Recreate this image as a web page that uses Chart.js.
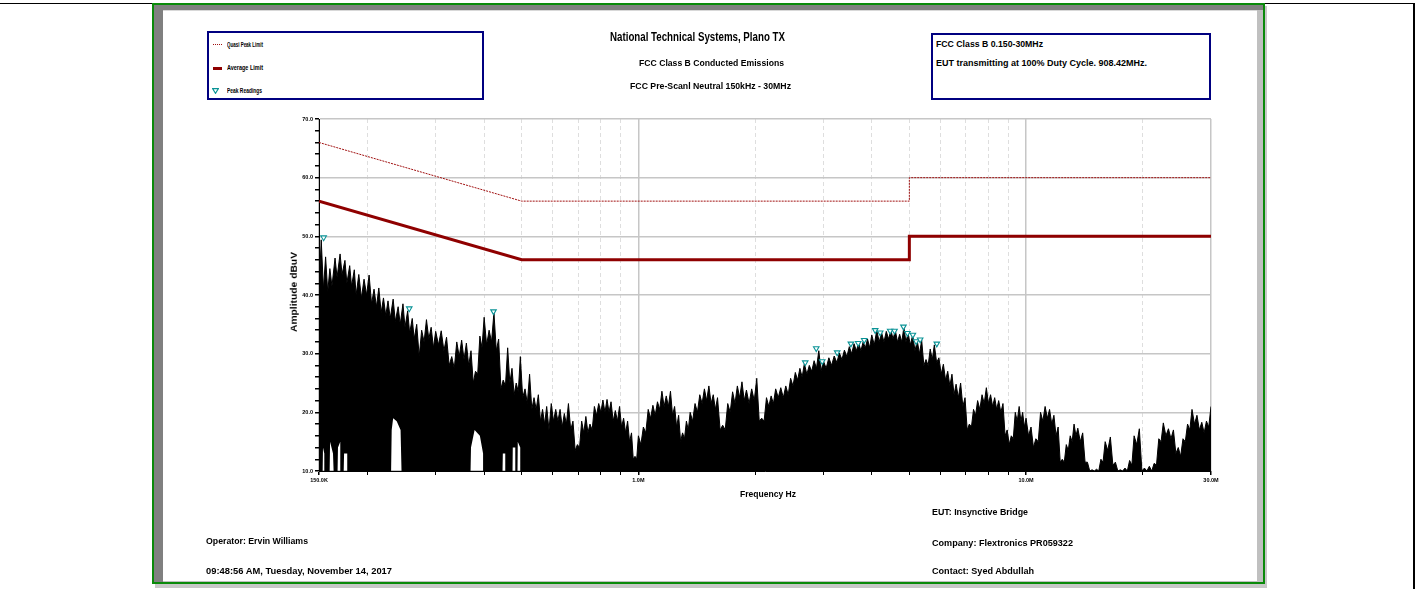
<!DOCTYPE html>
<html><head><meta charset="utf-8">
<script src="https://cdn.jsdelivr.net/npm/chart.js@4.4.0/dist/chart.umd.min.js"></script>
<style>
html,body{margin:0;padding:0;background:#fff;}
body{width:1421px;height:589px;position:relative;overflow:hidden;font-family:"Liberation Sans",Arial,sans-serif;}
.a{position:absolute;}
.t{position:absolute;white-space:nowrap;font-weight:bold;line-height:1;transform-origin:0 50%;color:#000;}
.box{position:absolute;box-sizing:border-box;border:2px solid #000080;background:#fff;}
</style></head><body>
<!-- page / report frame -->
<div class="a" style="left:0;top:3px;width:1415px;height:1px;background:#000"></div>
<div class="a" style="left:1413px;top:3px;width:2px;height:586px;background:#000"></div>
<div class="a" style="left:155px;top:6px;width:1112px;height:582px;background:#c8c8c8"></div>
<div class="a" style="left:152px;top:3px;width:1113px;height:581px;box-sizing:border-box;border:2px solid #0a8a0a;background:#fff"></div>
<div class="a" style="left:154px;top:5px;width:1109px;height:5px;background:#808080"></div>
<div class="a" style="left:154px;top:5px;width:9px;height:577px;background:#808080"></div>
<div class="a" style="left:163px;top:10px;width:1094px;height:1px;background:#d8d8d8"></div>
<div class="a" style="left:1257px;top:10px;width:6px;height:572px;background:#c0c0c0"></div>
<div class="a" style="left:163px;top:581px;width:1094px;height:1px;background:#c0c0c0"></div>

<canvas id="c" width="1421" height="589" style="position:absolute;left:0;top:0;"></canvas>

<!-- legend box -->
<div class="box" style="left:207px;top:31px;width:277px;height:69px"></div>
<div class="a" style="left:213px;top:44px;width:9px;border-top:1px dotted #a01010"></div>
<div class="a" style="left:213px;top:67px;width:9px;height:3px;background:#8f0000"></div>
<svg class="a" style="left:212px;top:88px" width="7" height="6"><polygon points="0.6,0.6 6.4,0.6 3.5,5.4" fill="#fff" stroke="#0a9396" stroke-width="1.1"/></svg>
<div class="t" style="left:227px;top:41.5px;font-size:6.5px" data-w="36">Quasi Peak Limit</div>
<div class="t" style="left:227px;top:65px;font-size:6.5px" data-w="36">Average Limit</div>
<div class="t" style="left:227px;top:88px;font-size:6.5px" data-w="35">Peak Readings</div>

<!-- titles -->
<div class="t" style="left:610px;top:30.5px;font-size:12.5px" data-w="175">National Technical Systems, Plano TX</div>
<div class="t" style="left:639px;top:59px;font-size:8.5px" data-w="145">FCC Class B Conducted Emissions</div>
<div class="t" style="left:630px;top:81.5px;font-size:8.5px" data-w="161">FCC Pre-Scanl Neutral 150kHz - 30MHz</div>

<!-- info box -->
<div class="box" style="left:931px;top:33px;width:280px;height:67px"></div>
<div class="t" style="left:936px;top:40px;font-size:8.5px" data-w="107">FCC Class B 0.150-30MHz</div>
<div class="t" style="left:936px;top:58.5px;font-size:8.5px" data-w="211">EUT transmitting at 100% Duty Cycle. 908.42MHz.</div>

<!-- axis titles -->
<div class="t" style="left:740px;top:490px;font-size:8.5px" data-w="56">Frequency Hz</div>
<div class="t" style="left:293.5px;top:292px;font-size:8.5px;transform-origin:50% 50%" data-w="80" data-rot="1">Amplitude dBuV</div>

<!-- footer -->
<div class="t" style="left:932px;top:508px;font-size:8.5px" data-w="96">EUT: Insynctive Bridge</div>
<div class="t" style="left:932px;top:539px;font-size:8.5px" data-w="141">Company: Flextronics PR059322</div>
<div class="t" style="left:932px;top:567px;font-size:8.5px" data-w="102">Contact: Syed Abdullah</div>
<div class="t" style="left:206px;top:537px;font-size:8.5px" data-w="102">Operator: Ervin Williams</div>
<div class="t" style="left:206px;top:567px;font-size:8.5px" data-w="186">09:48:56 AM, Tuesday, November 14, 2017</div>

<script>
// ---------------- data ----------------
// spectrum: local spike tops
const spikeFreqMHz = [
  0.150,0.152,0.156,0.160,0.165,0.170,0.175,0.180,0.185,0.190,0.196,0.202,0.208,0.214,0.220,0.226,0.233,0.240,0.247,0.254,
  0.261,0.268,0.276,0.284,0.292,0.300,0.310,0.320,0.330,0.340,0.350,0.360,0.370,0.380,0.390,0.400,0.412,0.424,0.436,0.448,
  0.460,0.472,0.484,0.496,0.510,0.524,0.538,0.552,0.566,0.580,0.596,0.612,0.628,0.644,0.660,0.678,0.696,0.714,0.732,0.750,
  0.770,0.790,0.810,0.830,0.850,0.872,0.894,0.916,0.938,0.960,0.980,
  1.00,1.03,1.06,1.09,1.12,1.15,1.18,1.21,1.24,1.27,1.30,1.33,1.36,1.40,1.44,1.48,1.52,1.56,1.60,1.65,
  1.70,1.75,1.80,1.85,1.90,1.96,2.02,2.08,2.14,2.20,2.26,2.33,2.40,2.47,2.54,2.61,2.68,2.76,2.84,2.92,
  3.00,3.10,3.20,3.30,3.40,3.50,3.60,3.70,3.80,3.90,4.00,4.12,4.24,4.36,4.48,4.60,4.72,4.84,4.96,5.10,
  5.24,5.38,5.52,5.66,5.80,5.96,6.12,6.28,6.44,6.60,6.78,6.96,7.14,7.32,7.50,7.70,7.90,8.10,8.30,8.50,
  8.72,8.94,9.16,9.38,9.60,9.80,
  10.0,10.3,10.6,10.9,11.2,11.5,11.8,12.1,12.4,12.7,13.0,13.3,13.6,14.0,14.4,14.8,15.2,15.6,16.0,16.5,
  17.0,17.5,18.0,18.5,19.0,19.6,20.2,20.8,21.4,22.0,22.6,23.3,24.0,24.7,25.4,26.1,26.8,27.6,28.4,29.2,30.0
];
const spikeDbuV = [
  48.0,49.4,46.5,44.5,46.3,47.0,45.9,45.0,44.3,43.5,42.7,43.4,41.0,41.2,39.5,39.0,39.3,38.0,38.5,37.3,
  36.0,35.0,34.0,35.8,34.5,33.8,33.9,32.8,29.5,32.0,32.3,31.8,30.5,27.0,33.0,36.2,34.0,37.0,32.5,25.5,
  31.0,27.5,25.0,29.5,24.0,26.5,22.5,23.0,20.5,21.0,21.5,20.5,20.5,19.8,21.5,18.5,14.5,18.5,19.3,18.0,
  21.0,21.5,22.1,22.2,21.8,20.3,21.0,19.0,18.5,16.5,12.5,
  16.0,17.5,20.5,21.2,21.8,23.6,22.8,23.6,21.0,19.5,16.5,18.5,20.0,21.5,23.0,24.0,24.5,23.0,22.5,17.8,
  21.5,23.5,24.5,25.2,23.8,24.0,25.8,19.0,22.5,22.8,24.0,24.2,24.5,25.8,26.8,27.5,28.3,28.0,28.8,30.5,
  28.8,29.3,29.6,30.1,30.6,31.2,31.7,31.8,32.0,32.5,33.2,34.0,33.6,33.8,34.0,34.0,33.3,34.5,33.5,33.2,
  32.2,32.3,29.0,30.8,31.5,29.3,28.2,27.0,26.5,24.8,25.0,22.5,18.0,20.5,22.0,23.0,24.2,23.0,22.5,22.0,
  21.5,17.0,16.0,20.0,21.0,20.0,
  19.0,17.5,15.5,20.0,21.0,20.5,19.5,17.5,12.0,14.5,16.0,18.0,17.3,16.5,11.5,10.2,10.3,12.0,15.0,15.8,
  11.5,10.2,10.5,11.8,16.0,17.2,10.5,10.8,11.3,15.5,18.2,17.2,17.0,14.0,15.5,18.0,20.5,19.5,18.3,18.5,21.0
];
// spectrum: notches between the spike tops
const valleyFreqMHz = [
  0.151,0.154,0.158,0.162,0.167,0.172,0.177,0.182,0.187,0.193,
  0.199,0.205,0.211,0.217,0.223,0.229,0.236,0.243,0.250,0.257,
  0.264,0.272,0.280,0.288,0.296,0.305,0.315,0.325,0.335,0.345,
  0.355,0.365,0.375,0.385,0.395,0.406,0.418,0.430,0.442,0.454,
  0.466,0.478,0.490,0.503,0.517,0.531,0.545,0.559,0.573,0.588,
  0.604,0.620,0.636,0.652,0.669,0.687,0.705,0.723,0.741,0.760,
  0.780,0.800,0.820,0.840,0.861,0.883,0.905,0.927,0.949,0.970,
  0.990,
  1.015,1.045,1.075,1.105,1.135,1.165,1.195,1.225,1.255,1.285,
  1.315,1.345,1.38,1.42,1.46,1.50,1.54,1.58,1.625,1.675,
  1.725,1.775,1.825,1.875,1.93,1.99,2.05,2.11,2.17,2.23,
  2.295,2.365,2.435,2.505,2.575,2.645,2.72,2.80,2.88,2.96,
  3.05,3.15,3.25,3.35,3.45,3.55,3.65,3.75,3.85,3.95,
  4.06,4.18,4.30,4.42,4.54,4.66,4.78,4.90,5.03,5.17,
  5.31,5.45,5.59,5.73,5.88,6.04,6.20,6.36,6.52,6.69,
  6.87,7.05,7.23,7.41,7.60,7.80,8.00,8.20,8.40,8.61,
  8.83,9.05,9.27,9.49,9.70,9.90,
  10.15,10.45,10.75,11.05,11.35,11.65,11.95,12.25,12.55,12.85,
  13.15,13.45,13.8,14.2,14.6,15.0,15.4,15.8,16.25,16.75,
  17.25,17.75,18.25,18.75,19.3,19.9,20.5,21.1,21.7,22.3,
  22.95,23.65,24.35,25.05,25.75,26.45,27.2,28.0,28.8,29.6
];
const valleyDbuV = [
  45.0,41.0,40.5,41.5,43.0,43.5,42.0,41.5,40.0,39.5,
  40.0,38.5,38.0,37.0,36.5,36.0,35.5,35.0,34.5,33.5,
  32.5,29.5,32.0,32.5,31.0,31.5,30.5,28.0,27.5,29.5,
  29.0,28.0,25.0,26.5,31.0,31.5,32.0,30.5,24.0,24.5,
  25.0,23.0,23.5,22.5,21.5,20.5,20.5,18.5,18.0,17.0,
  18.5,18.5,17.5,18.0,17.0,13.5,14.0,16.5,16.5,17.0,
  19.5,20.0,20.0,20.0,18.5,18.5,17.5,16.5,15.0,12.0,
  12.0,
  14.5,16.5,19.0,19.5,20.5,21.0,21.0,19.5,17.5,15.0,
  15.5,17.0,18.5,20.0,21.5,22.0,21.5,20.5,17.0,17.0,
  20.0,21.5,22.5,22.0,21.5,22.0,18.5,18.5,21.0,21.5,
  22.5,22.5,23.0,24.5,25.5,26.0,26.5,27.0,27.5,27.0,
  27.5,28.0,28.5,29.0,29.5,30.0,30.5,30.5,31.0,31.0,
  31.5,32.0,32.0,32.5,32.5,32.0,32.0,32.0,31.5,30.5,
  30.0,28.0,28.0,29.0,28.5,26.5,25.5,24.5,23.0,22.5,
  21.0,17.0,17.5,19.5,20.5,21.5,21.5,21.0,20.5,20.0,
  16.0,14.5,15.5,18.5,18.5,17.5,
  16.0,14.0,15.0,18.5,19.0,18.0,16.0,11.5,11.5,13.5,
  15.0,16.0,15.0,11.5,10.0,10.0,10.0,11.5,13.5,11.0,
  10.0,10.0,10.0,11.0,14.5,10.0,10.0,10.0,11.0,15.0,
  16.0,15.5,13.0,12.5,15.0,17.0,18.0,17.0,16.5,17.5
];
// lower edge of the black trace (white gaps near the bottom)
const floorFreqMHz = [0.150,
  0.1533,0.1536,0.1548,0.1551, 0.1598,0.1602,0.1630,0.1636, 0.1675,0.1679,0.1702,0.1706, 0.1737,0.1741,0.1774,0.1778,
  0.2302,0.2310,0.2330,0.2380,0.2435,0.2449, 0.3690,0.3700,0.3780,0.3900,0.3975,0.3986,
  0.4462,0.4470,0.4535,0.4542, 0.4735,0.4742,0.4813,0.4820, 0.4877,0.4885,0.4957,0.4965, 30.0];
const floorDbuV = [10,
  10,14,13,10, 10,15,13,10, 10,14,15,10, 10,13,13,10,
  10,17,19,18.5,17,10, 10,14,17,16,13,10,
  10,13,13,10, 10,14,14,10, 10,15,14,10, 10];
// peak reading markers
const markFreqMHz = [0.1542,0.2564,0.4229,2.694,2.876,2.980,3.257,3.533,3.690,3.824,4.082,4.205,4.462,4.578,4.828,4.944,5.105,5.206,5.331,5.886];
const markDbuV    = [49.8,37.7,37.2,28.5,30.9,28.7,30.2,31.7,31.8,32.3,34.0,33.6,33.9,33.9,34.6,33.5,33.2,32.1,32.4,31.7];
// limits
const qpLimitFreqMHz  = [0.15,0.5,5,5,30];
const qpLimitDbuV     = [66,56,56,60,60];
const avgLimitFreqMHz = [0.15,0.5,5,5,30];
const avgLimitDbuV    = [56,46,46,50,50];
// axes
const xTickValues = [0.15,0.2,0.3,0.4,0.5,0.6,0.7,0.8,0.9,1,2,3,4,5,6,7,8,9,10,20,30];
const xTickLabels = {"0.15":"150.0K","1":"1.0M","10":"10.0M","30":"30.0M"};
const yTickValues = [10,12,14,16,18,20,22,24,26,28,30,32,34,36,38,40,42,44,46,48,50,52,54,56,58,60,62,64,66,68,70];

// ---------------- chart ----------------
const pts = (xs, ys) => xs.map((x, i) => ({x: x, y: ys[i]}));
const tracePts = pts(spikeFreqMHz, spikeDbuV).concat(pts(valleyFreqMHz, valleyDbuV)).sort((a, b) => a.x - b.x);
const tickFont = {family: "'Liberation Sans Narrow','Liberation Sans',Arial,sans-serif", size: 5.5, weight: 'bold'};
const isMajorX = v => v === 1 || v === 10 || v === 30 || v === 0.15;

new Chart(document.getElementById('c'), {
  type: 'line',
  data: {datasets: [
    {label: 'floor', data: pts(floorFreqMHz, floorDbuV), borderColor: 'rgba(0,0,0,0)', borderWidth: 1, pointRadius: 0, fill: false, order: 5},
    {label: 'Peak', data: tracePts, borderColor: '#000', borderWidth: 1, backgroundColor: '#000', pointRadius: 0, fill: '-1', order: 4},
    {label: 'Quasi Peak Limit', data: pts(qpLimitFreqMHz, qpLimitDbuV), borderColor: '#a01010', borderWidth: 1, borderDash: [2, 1], pointRadius: 0, fill: false, order: 2},
    {label: 'Average Limit', data: pts(avgLimitFreqMHz, avgLimitDbuV), borderColor: '#8f0000', borderWidth: 3, pointRadius: 0, fill: false, order: 1},
    {label: 'Peak Readings', data: pts(markFreqMHz, markDbuV), showLine: false, pointStyle: 'triangle', rotation: 180,
     pointRadius: 3.2, borderColor: '#0a9396', pointBorderColor: '#0a9396', borderWidth: 1.1, pointBackgroundColor: '#ffffff', order: 0}
  ]},
  options: {
    responsive: false, animation: false, devicePixelRatio: 1, events: [],
    layout: {padding: {left: 279, right: 210, top: 119, bottom: 88}},
    plugins: {legend: {display: false}, title: {display: false}, tooltip: {enabled: false}},
    elements: {line: {tension: 0}},
    scales: {
      x: {
        type: 'logarithmic', min: 0.15, max: 30,
        afterFit: s => { s.height = 30; },
        afterBuildTicks: s => { s.ticks = xTickValues.map(v => ({value: v})); },
        ticks: {autoSkip: false, maxRotation: 0, minRotation: 0, padding: 2, color: '#000', font: tickFont,
                callback: v => xTickLabels[String(v)] || ''},
        grid: {
          color: c => (c.tick && isMajorX(c.tick.value)) ? '#c6c6c6' : '#dedede',
          lineWidth: c => (c.tick && isMajorX(c.tick.value)) ? 1.5 : 1,
          tickColor: '#000', tickLength: 4, drawTicks: true
        },
        border: {display: true, color: '#000', width: 1,
                 dash: c => (c.tick && !isMajorX(c.tick.value)) ? [4, 3] : []}
      },
      y: {
        type: 'linear', min: 10, max: 70,
        afterFit: s => { s.width = 40; },
        afterBuildTicks: s => { s.ticks = yTickValues.map(v => ({value: v})); },
        ticks: {autoSkip: false, padding: 2, color: '#000', font: tickFont,
                callback: v => (v % 10 === 0 ? v.toFixed(1) : '')},
        grid: {
          color: c => (c.tick && c.tick.value % 10 === 0) ? '#c6c6c6' : 'rgba(0,0,0,0)',
          lineWidth: 1.5, tickColor: '#000', tickLength: 4
        },
        border: {display: true, color: '#000', width: 1}
      }
    }
  }
});

// ---------------- fit text widths ----------------
document.querySelectorAll('.t[data-w]').forEach(el => {
  const w = el.getBoundingClientRect().width;
  const s = (+el.dataset.w) / w;
  if (el.dataset.rot) el.style.transform = 'translate(-50%,-50%) rotate(-90deg) scaleX(' + s + ')';
  else el.style.transform = 'scaleX(' + s + ')';
});
</script>
</body></html>
